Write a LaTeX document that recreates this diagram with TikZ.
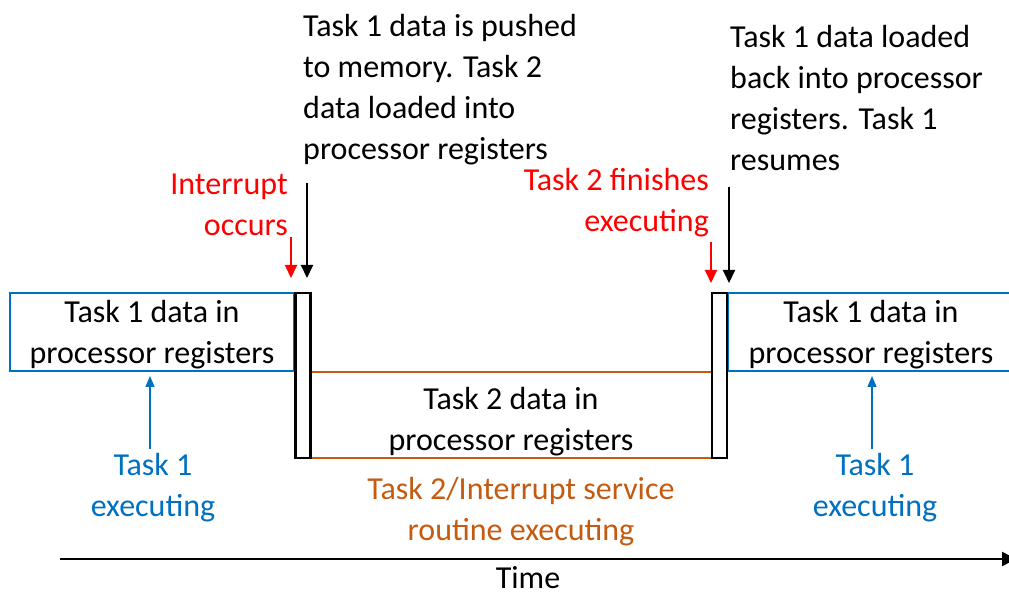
\documentclass[tikz,border=0pt]{standalone}
\usepackage{fontspec}
\setmainfont{Carlito}
\usetikzlibrary{arrows.meta}
\definecolor{tblue}{RGB}{0,112,192}
\definecolor{torange}{RGB}{197,90,17}
\definecolor{tred}{RGB}{255,0,0}
\tikzset{
  x=1pt, y=1pt,
  txt/.style={inner sep=0pt, font=\fontsize{32}{41}\selectfont},
  regbox/.style={draw=tblue, line width=2pt},
  swapbar/.style={draw=black, line width=2.5pt},
  isrbox/.style={draw=torange, line width=2pt},
  ptr/.style={line width=2pt, -{Triangle[length=13pt,width=12pt]}},
  up/.style={line width=1.5pt, draw=tblue, -{Triangle[length=11pt,width=9pt]}},
}
\begin{document}
\begin{tikzpicture}
\useasboundingbox (0,0) rectangle (1009,594);

% register contents along the time line
\draw[regbox] (10,223) rectangle (294,301);
\node[txt, align=center] (t1a) at (152,259) {Task 1 data in\\processor registers};
\draw[regbox] (1012,223) -- (728,223) -- (728,301) -- (1012,301);
\node[txt, align=center] (t1b) at (871,259) {Task 1 data in\\processor registers};

\draw[isrbox] (311,136) rectangle (712,222);
\node[txt, align=center] (t2) at (511,172) {Task 2 data in\\processor registers};

% context switch bars
\node[swapbar, minimum width=15pt, minimum height=165pt, inner sep=0pt] (bar1) at (303,218.5) {};
\node[swapbar, minimum width=15pt, minimum height=165pt, inner sep=0pt] (bar2) at (719.5,218.5) {};

% annotations above
\node[txt, align=left, anchor=west] (push) at (303,504) {Task 1 data is pushed\\to memory. Task 2\\data loaded into\\processor registers};
\node[txt, align=left, anchor=west] (load) at (730,496) {Task 1 data loaded\\back into processor\\registers. Task 1\\resumes};
\node[txt, align=right, anchor=east, text=tred] (irq) at (288,389) {Interrupt\\occurs};
\node[txt, align=right, anchor=east, text=tred] (fin) at (709,391) {Task 2 finishes\\executing};

\coordinate (p1s) at (307,411);
\coordinate (p1e) at (307,316);
\coordinate (i1s) at (291,357);
\coordinate (i1e) at (291,316);
\coordinate (p2s) at (729,407);
\coordinate (p2e) at (729,311);
\coordinate (i2s) at (711,352);
\coordinate (i2e) at (711,311);
\draw[ptr, black] (p1s) -- (p1e);
\draw[ptr, tred] (i1s) -- (i1e);
\draw[ptr, black] (p2s) -- (p2e);
\draw[ptr, tred] (i2s) -- (i2e);

% running tasks
\node[txt, align=center, text=tblue] (ex1) at (153,106) {Task 1\\executing};
\node[txt, align=center, text=tblue] (ex2) at (875,106) {Task 1\\executing};
\node[txt, align=center, text=torange] (isr) at (521,82) {Task 2/Interrupt service\\routine executing};
\coordinate (b1s) at (150,145);
\coordinate (b1e) at (150,218);
\coordinate (b2s) at (872,145);
\coordinate (b2e) at (872,218);
\draw[up] (b1s) -- (b1e);
\draw[up] (b2s) -- (b2e);

% time axis
\coordinate (t0) at (60,35);
\coordinate (t1) at (1016,35);
\draw[line width=2.5pt, -{Triangle[length=14pt,width=14pt]}] (t0) -- (t1);
\node[txt] (time) at (528,16) {Time};
\end{tikzpicture}
\end{document}
